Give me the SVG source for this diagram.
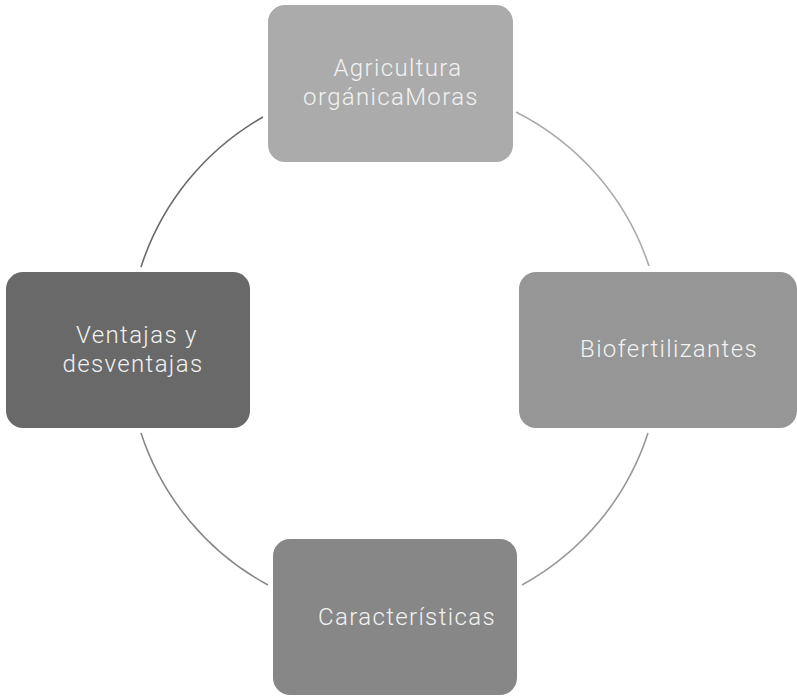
<svg xmlns="http://www.w3.org/2000/svg" width="797" height="696" viewBox="0 0 797 696">
<style>
.box{stroke:none}
.lbl{font-family:Roboto,"Liberation Sans",sans-serif;font-weight:300;font-size:24px;letter-spacing:1.35px;fill:#f2f2f2;text-anchor:middle}
.arc{fill:none;stroke-width:1.6}
</style>
<rect width="797" height="696" fill="#ffffff"/>
<g id="connectors">
<path class="arc" stroke="#6a6a6a" d="M263,117 A267,267 0 0 0 141,267"/>
<path class="arc" stroke="#ababab" d="M516,112 A267,267 0 0 1 649,266"/>
<path class="arc" stroke="#989898" d="M648,433 A267,267 0 0 1 522,585"/>
<path class="arc" stroke="#888888" d="M268,585 A267,267 0 0 1 141,433"/>
</g>
<g id="node-agricultura">
<rect class="box" x="268" y="5" width="245" height="157" rx="17" fill="#ababab"/>
<text class="lbl" x="398" y="76">Agricultura</text>
<text class="lbl" x="391" y="105">orgánicaMoras</text>
</g>
<g id="node-biofertilizantes">
<rect class="box" x="519" y="272" width="278" height="156" rx="17" fill="#969696"/>
<text class="lbl" x="669" y="357">Biofertilizantes</text>
</g>
<g id="node-caracteristicas">
<rect class="box" x="273" y="539" width="244" height="156" rx="17" fill="#878787"/>
<text class="lbl" x="407" y="625">Características</text>
</g>
<g id="node-ventajas">
<rect class="box" x="6" y="272" width="244" height="156" rx="17" fill="#696969"/>
<text class="lbl" x="137" y="343">Ventajas y</text>
<text class="lbl" x="133" y="372">desventajas</text>
</g>
</svg>
